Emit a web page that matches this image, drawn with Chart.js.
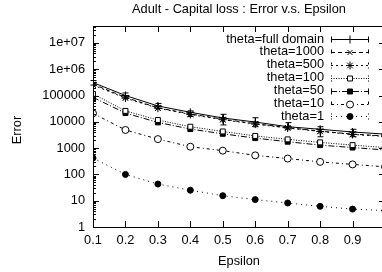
<!DOCTYPE html>
<html>
<head>
<meta charset="utf-8">
<script src="https://cdn.jsdelivr.net/npm/chart.js@4/dist/chart.umd.min.js"></script>
<style>
  html, body { margin: 0; padding: 0; overflow: hidden; background: #fff; }
  #wrap { width: 390px; height: 272px; }
</style>
</head>
<body>
<div id="wrap"><canvas id="myChart" width="390" height="272"></canvas></div>
<script>
// epsilon values on the x axis
var epsilon = [0.1, 0.2, 0.3, 0.4, 0.5, 0.6, 0.7, 0.8, 0.9, 1.0];
var xTicks = [0.1, 0.2, 0.3, 0.4, 0.5, 0.6, 0.7, 0.8, 0.9];
var yTicks = [1, 10, 100, 1000, 10000, 100000, 1000000, 10000000];
var yTickLabels = ['1', '10', '100', '1000', '10000', '100000', '1e+06', '1e+07'];

// error per theta
var fullDomain = [310000, 100000, 40000, 23000, 14000, 9800, 6500, 5200, 4100, 3400];
var fullLow    = [250000, 82000, 32000, 16000, 7600, 6500, 5300, 2700, 2700, 2500];
var fullHigh   = [370000, 125000, 50000, 26000, 19300, 14300, 9300, 6500, 5200, 4500];
var theta1000  = [270000, 85000, 34000, 20000, 12500, 8500, 6000, 4400, 3400, 2900];
var theta500   = [250000, 80000, 33000, 19000, 12000, 8200, 5800, 4300, 3300, 2800];
var theta100   = [115000, 26000, 11700, 6500, 4300, 2900, 2150, 1650, 1300, 1050];
var theta50    = [85000, 21500, 9500, 5300, 3500, 2400, 1750, 1300, 1050, 850];
var theta10    = [21000, 4900, 2200, 1130, 800, 530, 400, 300, 240, 195];
var theta1     = [420, 100, 43, 25, 15.5, 11, 8.2, 6.1, 4.8, 4.2];

var names = ['theta=full domain', 'theta=1000', 'theta=500', 'theta=100', 'theta=50', 'theta=10', 'theta=1'];

function pts(arr) {
    return arr.map(function (v, i) { return {x: epsilon[i], y: v}; });
}

var FONT = '"Liberation Sans", Arial, Helvetica, sans-serif';
var FS = 12.8;

var series = [
    {data: fullDomain, dash: [], style: 'cross', r: 4, fill: false},
    {data: theta1000, dash: [4, 3], style: 'crossRot', r: 3.5, fill: false},
    {data: theta500, dash: [2, 3], style: 'star', r: 4, fill: false},
    {data: theta100, dash: [1, 1.5], style: 'rect', r: 3.5, fill: false},
    {data: theta50, dash: [6, 2, 1, 2], style: 'rect', r: 3.5, fill: true},
    {data: theta10, dash: [3, 3, 1, 3], style: 'circle', r: 3.5, fill: false},
    {data: theta1, dash: [1, 4], style: 'circle', r: 3, fill: true}
];

var datasets = series.map(function (s, i) {
    return {
        label: names[i],
        data: pts(s.data),
        borderColor: '#000',
        borderWidth: 1,
        borderDash: s.dash,
        pointStyle: s.style,
        pointRadius: s.r,
        pointBorderWidth: 1,
        pointBorderColor: '#000',
        pointBackgroundColor: s.fill ? '#000' : '#fff',
        tension: 0,
        fill: false
    };
});

// frame, inward ticks, texts, legend and error bars like gnuplot
var gnuplotLook = {
    id: 'gnuplotLook',
    afterDatasetsDraw: function (chart) {
        var ctx = chart.ctx, a = chart.chartArea;
        var xs = chart.scales.x, ys = chart.scales.y;
        ctx.save();
        ctx.strokeStyle = '#000';
        ctx.lineWidth = 1;
        ctx.setLineDash([]);

        // error bars of the full domain series
        fullDomain.forEach(function (v, i) {
            var px = Math.round(xs.getPixelForValue(epsilon[i])) + 0.5;
            var lo = ys.getPixelForValue(fullLow[i]);
            var hi = ys.getPixelForValue(fullHigh[i]);
            ctx.beginPath();
            ctx.moveTo(px, lo); ctx.lineTo(px, hi);
            ctx.moveTo(px - 3, lo); ctx.lineTo(px + 3, lo);
            ctx.moveTo(px - 3, hi); ctx.lineTo(px + 3, hi);
            ctx.stroke();
        });

        // border
        ctx.strokeRect(Math.round(a.left) + 0.5, Math.round(a.top) + 0.5,
            Math.round(a.right - a.left), Math.round(a.bottom - a.top));

        // x ticks (bottom and top)
        xTicks.forEach(function (t) {
            var px = Math.round(xs.getPixelForValue(t)) + 0.5;
            ctx.beginPath();
            ctx.moveTo(px, a.bottom); ctx.lineTo(px, a.bottom - 6);
            ctx.moveTo(px, a.top); ctx.lineTo(px, a.top + 6);
            ctx.stroke();
        });

        // y ticks, major and minor
        for (var e = 0; e < 8; e++) {
            for (var m = 1; m < 10; m++) {
                var v = m * Math.pow(10, e);
                if (v > ys.max) break;
                var py = Math.round(ys.getPixelForValue(v)) + 0.5;
                var len = m === 1 ? 6 : 3;
                ctx.beginPath();
                ctx.moveTo(a.left, py); ctx.lineTo(a.left + len, py);
                ctx.moveTo(a.right, py); ctx.lineTo(a.right - len, py);
                ctx.stroke();
            }
        }

        // title and axis titles
        ctx.fillStyle = '#000';
        ctx.font = FS + 'px ' + FONT;
        ctx.textAlign = 'center';
        ctx.textBaseline = 'middle';
        ctx.fillText('Adult - Capital loss : Error v.s. Epsilon', 239, 9);
        ctx.fillText('Epsilon', 239, 261);
        ctx.save();
        ctx.translate(17, 130);
        ctx.rotate(-Math.PI / 2);
        ctx.fillText('Error', 0, 0);
        ctx.restore();

        // legend
        ctx.textAlign = 'right';
        series.forEach(function (s, i) {
            var y = 39 + i * 12.9;
            ctx.fillStyle = '#000';
            ctx.fillText(names[i], 324, y);
            var yy = Math.round(y) + 0.5;
            ctx.setLineDash(s.dash);
            ctx.beginPath();
            ctx.moveTo(331, yy); ctx.lineTo(369, yy);
            ctx.stroke();
            ctx.beginPath();
            ctx.moveTo(331.5, yy - 3); ctx.lineTo(331.5, yy + 3);
            ctx.moveTo(368.5, yy - 3); ctx.lineTo(368.5, yy + 3);
            ctx.stroke();
            ctx.setLineDash([]);
            ctx.fillStyle = s.fill ? '#000' : '#fff';
            Chart.helpers.drawPoint(ctx, {pointStyle: s.style, radius: s.r, rotation: 0, borderWidth: 1}, 350, yy);
        });
        ctx.restore();
    }
};

var ctx = document.getElementById('myChart').getContext('2d');

var chart = new Chart(ctx, {
    type: 'line',
    data: {datasets: datasets},
    options: {
        responsive: false,
        animation: false,
        layout: {padding: {top: 26, right: 4, left: 0, bottom: 0}},
        plugins: {legend: {display: false}, tooltip: {enabled: false}},
        scales: {
            x: {
                type: 'linear',
                min: 0.1,
                max: 1.0,
                afterBuildTicks: function (scale) {
                    scale.ticks = xTicks.map(function (v) { return {value: v}; });
                },
                afterFit: function (scale) { scale.height = 45; },
                grid: {display: false, drawTicks: false},
                border: {display: false},
                ticks: {
                    padding: 6,
                    color: '#000',
                    font: {family: FONT, size: FS},
                    maxRotation: 0,
                    callback: function (v) { return v.toFixed(1); }
                }
            },
            y: {
                type: 'logarithmic',
                min: 1,
                max: 44000000,
                afterBuildTicks: function (scale) {
                    scale.ticks = yTicks.map(function (v) { return {value: v}; });
                },
                afterFit: function (scale) { scale.width = 93; },
                grid: {display: false, drawTicks: false},
                border: {display: false},
                ticks: {
                    padding: 8,
                    color: '#000',
                    font: {family: FONT, size: FS},
                    callback: function (v) {
                        var i = yTicks.indexOf(v);
                        return i >= 0 ? yTickLabels[i] : '';
                    }
                }
            }
        }
    },
    plugins: [gnuplotLook]
});
</script>
</body>
</html>
